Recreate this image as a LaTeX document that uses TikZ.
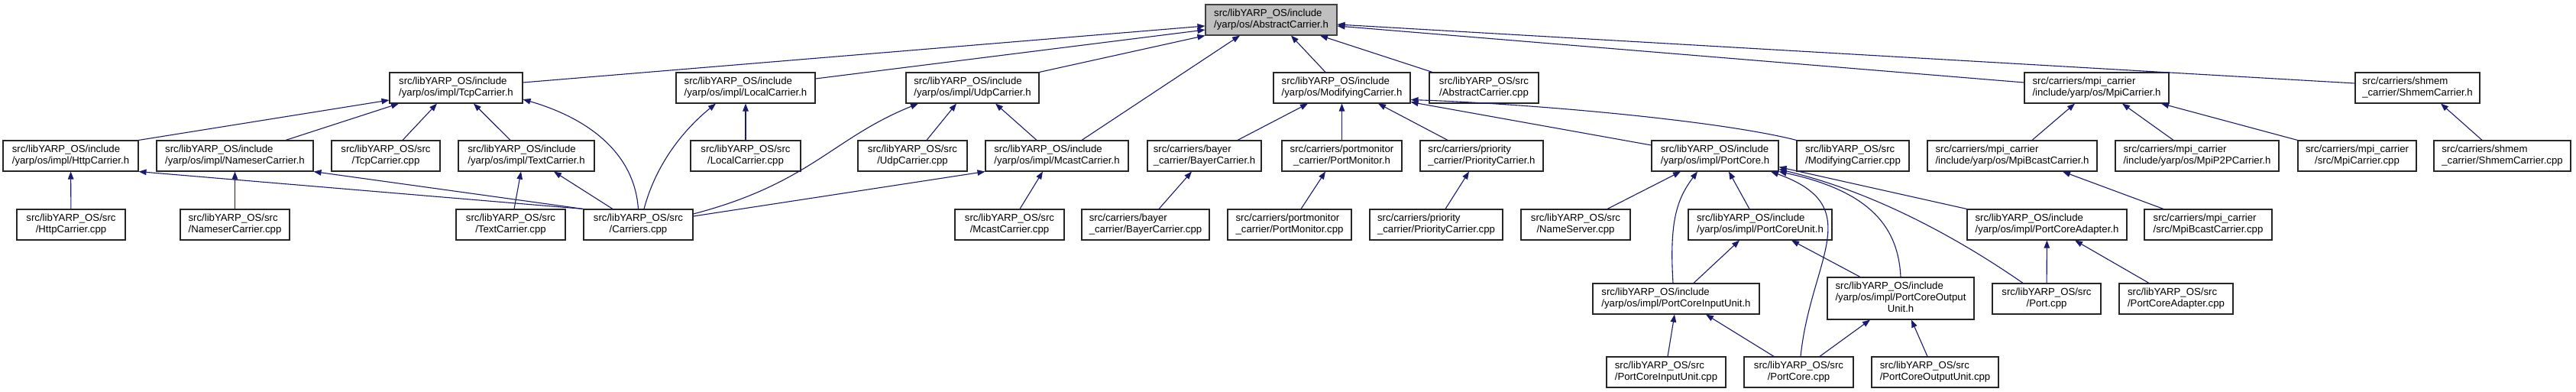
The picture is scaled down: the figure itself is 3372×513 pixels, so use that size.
\documentclass[tikz,border=0pt]{standalone}
\usepackage{fontspec}
\setmainfont{Liberation Sans}
\usetikzlibrary{arrows.meta}
\definecolor{edgeblue}{RGB}{25,25,112}
\definecolor{rootgray}{RGB}{191,191,191}
\newcommand{\yinc}{src/libYARP\_OS/include}
\newcommand{\ysrc}{src/libYARP\_OS/src}
\newcommand{\twol}[2]{\begin{tabular}{@{}l@{}}#1\\\multicolumn{1}{@{}c@{}}{#2}\end{tabular}}
\newcommand{\threel}[3]{\begin{tabular}{@{}l@{}}#1\\#2\\\multicolumn{1}{@{}c@{}}{#3}\end{tabular}}
\begin{document}
\begin{tikzpicture}[x=1pt,y=-1pt,
  box/.style={draw=black!85,line width=1.1pt,fill=white,inner sep=0pt,minimum height=40pt,
    font=\fontsize{13.2}{15}\selectfont},
  root/.style={box,fill=rootgray,draw=black!75},
  dep/.style={draw=edgeblue,line width=1.1pt,-{Triangle[length=10pt,width=7.5pt]}}]
  \useasboundingbox (0,0) rectangle (3372,513);

  \node[root,minimum width=172] (abs) at (1664,26) {\twol{\yinc}{/yarp/os/AbstractCarrier.h}};

  \node[box,minimum width=174] (tcp) at (597,115) {\twol{\yinc}{/yarp/os/impl/TcpCarrier.h}};
  \node[box,minimum width=182] (local) at (976,115) {\twol{\yinc}{/yarp/os/impl/LocalCarrier.h}};
  \node[box,minimum width=174] (udp) at (1273,115) {\twol{\yinc}{/yarp/os/impl/UdpCarrier.h}};
  \node[box,minimum width=179] (mod) at (1756.5,115) {\twol{\yinc}{/yarp/os/ModifyingCarrier.h}};
  \node[box,minimum width=143] (abscpp) at (1942.5,115) {\twol{\ysrc}{/AbstractCarrier.cpp}};
  \node[box,minimum width=189] (mpi) at (2744.5,115) {\twol{src/carriers/mpi\_carrier}{/include/yarp/os/MpiCarrier.h}};
  \node[box,minimum width=163] (shmem) at (3164.5,115) {\twol{src/carriers/shmem}{\_carrier/ShmemCarrier.h}};

  \node[box,minimum width=177] (http) at (92.5,204) {\twol{\yinc}{/yarp/os/impl/HttpCarrier.h}};
  \node[box,minimum width=205] (nameser) at (307.5,204) {\twol{\yinc}{/yarp/os/impl/NameserCarrier.h}};
  \node[box,minimum width=142] (tcpcpp) at (505,204) {\twol{\ysrc}{/TcpCarrier.cpp}};
  \node[box,minimum width=178] (text) at (689,204) {\twol{\yinc}{/yarp/os/impl/TextCarrier.h}};
  \node[box,minimum width=144] (localcpp) at (976,204) {\twol{\ysrc}{/LocalCarrier.cpp}};
  \node[box,minimum width=143] (udpcpp) at (1194.5,204) {\twol{\ysrc}{/UdpCarrier.cpp}};
  \node[box,minimum width=187] (mcast) at (1383.5,204) {\twol{\yinc}{/yarp/os/impl/McastCarrier.h}};
  \node[box,minimum width=149] (bayer) at (1576.5,204) {\twol{src/carriers/bayer}{\_carrier/BayerCarrier.h}};
  \node[box,minimum width=157] (portmon) at (1756.5,204) {\twol{src/carriers/portmonitor}{\_carrier/PortMonitor.h}};
  \node[box,minimum width=161] (prio) at (1939.5,204) {\twol{src/carriers/priority}{\_carrier/PriorityCarrier.h}};
  \node[box,minimum width=166] (portcore) at (2245,204) {\twol{\yinc}{/yarp/os/impl/PortCore.h}};
  \node[box,minimum width=147] (modcpp) at (2425.5,204) {\twol{\ysrc}{/ModifyingCarrier.cpp}};
  \node[box,minimum width=222] (mpibcast) at (2634,204) {\twol{src/carriers/mpi\_carrier}{/include/yarp/os/MpiBcastCarrier.h}};
  \node[box,minimum width=214] (mpip2p) at (2876,204) {\twol{src/carriers/mpi\_carrier}{/include/yarp/os/MpiP2PCarrier.h}};
  \node[box,minimum width=155] (mpicpp) at (3085.5,204) {\twol{src/carriers/mpi\_carrier}{/src/MpiCarrier.cpp}};
  \node[box,minimum width=179] (shmemcpp) at (3275.5,204) {\twol{src/carriers/shmem}{\_carrier/ShmemCarrier.cpp}};

  \node[box,minimum width=142] (httpcpp) at (93,294) {\twol{\ysrc}{/HttpCarrier.cpp}};
  \node[box,minimum width=143] (nscpp) at (307.5,294) {\twol{\ysrc}{/NameserCarrier.cpp}};
  \node[box,minimum width=143] (textcpp) at (668.5,294) {\twol{\ysrc}{/TextCarrier.cpp}};
  \node[box,minimum width=143] (carriers) at (835.5,294) {\twol{\ysrc}{/Carriers.cpp}};
  \node[box,minimum width=143] (mcastcpp) at (1321.5,294) {\twol{\ysrc}{/McastCarrier.cpp}};
  \node[box,minimum width=167] (bayercpp) at (1499.5,294) {\twol{src/carriers/bayer}{\_carrier/BayerCarrier.cpp}};
  \node[box,minimum width=162] (portmoncpp) at (1688,294) {\twol{src/carriers/portmonitor}{\_carrier/PortMonitor.cpp}};
  \node[box,minimum width=174] (priocpp) at (1880,294) {\twol{src/carriers/priority}{\_carrier/PriorityCarrier.cpp}};
  \node[box,minimum width=143] (namesrv) at (2062.5,294) {\twol{\ysrc}{/NameServer.cpp}};
  \node[box,minimum width=188] (pcunit) at (2304,294) {\twol{\yinc}{/yarp/os/impl/PortCoreUnit.h}};
  \node[box,minimum width=209] (pcadapter) at (2679.5,294) {\twol{\yinc}{/yarp/os/impl/PortCoreAdapter.h}};
  \node[box,minimum width=167] (mpibcastcpp) at (2890.5,294) {\twol{src/carriers/mpi\_carrier}{/src/MpiBcastCarrier.cpp}};

  \node[box,minimum width=218] (pcin) at (2194,391) {\twol{\yinc}{/yarp/os/impl/PortCoreInputUnit.h}};
  \node[box,minimum width=192,minimum height=55] (pcout) at (2488,390.5) {\threel{\yinc}{/yarp/os/impl/PortCoreOutput}{Unit.h}};
  \node[box,minimum width=142] (port) at (2679,391) {\twol{\ysrc}{/Port.cpp}};
  \node[box,minimum width=149] (pcadcpp) at (2848.5,391) {\twol{\ysrc}{/PortCoreAdapter.cpp}};

  \node[box,minimum width=156] (pcincpp) at (2181,487) {\twol{\ysrc}{/PortCoreInputUnit.cpp}};
  \node[box,minimum width=143] (pccpp) at (2354.5,487) {\twol{\ysrc}{/PortCore.cpp}};
  \node[box,minimum width=166] (pcoutcpp) at (2533,487) {\twol{\ysrc}{/PortCoreOutputUnit.cpp}};

  % into AbstractCarrier.h
  \draw[dep] ([yshift=7]tcp.east) -- ([yshift=-8]abs.west);
  \draw[dep] ([yshift=12]local.east) -- ([yshift=-13]abs.west);
  \draw[dep] (udp.north east) -- (abs.south west);
  \draw[dep] ([xshift=32.5]mcast.north) -- ([xshift=-41]abs.south);
  \draw[dep] ([xshift=-21.5]mod.north) -- ([xshift=26]abs.south);
  \draw[dep] ([xshift=-67.5]abscpp.north) -- ([xshift=64]abs.south);
  \draw[dep] ([yshift=7]mpi.west) -- ([yshift=-8]abs.east);
  \draw[dep] ([yshift=6]shmem.west) -- ([yshift=-6]abs.east);

  % libYARP_OS carriers
  \draw[dep] (http.north east) -- ([yshift=-16]tcp.west);
  \draw[dep] ([xshift=66.5]nameser.north) -- ([xshift=-75]tcp.south);
  \draw[dep] ([xshift=22]tcpcpp.north) -- ([xshift=-25]tcp.south);
  \draw[dep] ([xshift=-21]text.north) -- ([xshift=23]tcp.south);
  \draw[dep] (carriers.north) .. controls +(-5,-73) and +(86,25) .. ([yshift=-15]tcp.east);
  \draw[dep] (httpcpp) -- (http);
  \draw[dep] (carriers.north west) -- (http.south east);
  \draw[dep] (nscpp) -- (nameser);
  \draw[dep] (carriers.north west) -- (nameser.south east);
  \draw[dep] ([xshift=4.5]textcpp.north) -- ([xshift=-7]text.south);
  \draw[dep] ([xshift=-33.5]carriers.north) -- ([xshift=36]text.south);
  \draw[dep] (localcpp) -- (local);
  \draw[dep] ([xshift=7.5]carriers.north) .. controls +(17,-64) and +(-37,30) .. ([xshift=-39]local.south);
  \draw[dep] ([xshift=18.5]udpcpp.north) -- ([xshift=-21]udp.south);
  \draw[dep] ([xshift=-26.5]mcast.north) -- ([xshift=30]udp.south);
  \draw[dep] ([yshift=14]carriers.east) .. controls +(153,-40) and +(-112,45) .. ([xshift=-71]udp.south);
  \draw[dep] ([xshift=13.5]mcastcpp.north) -- ([xshift=-18.5]mcast.south);
  \draw[dep] ([yshift=11]carriers.east) -- (mcast.south west);

  % ModifyingCarrier.h
  \draw[dep] ([xshift=43.5]bayer.north) -- ([xshift=-44.5]mod.south);
  \draw[dep] (portmon) -- (mod);
  \draw[dep] ([xshift=-44.5]prio.north) -- ([xshift=47.5]mod.south);
  \draw[dep] ([yshift=14]portcore.west) -- ([yshift=2]mod.south east);
  \draw[dep] (modcpp.north west) .. controls +(-102,-26) and +(154,5) .. ([yshift=5]mod.south east);
  \draw[dep] ([xshift=17.5]bayercpp.north) -- ([xshift=-16.5]bayer.south);
  \draw[dep] ([xshift=15]portmoncpp.north) -- ([xshift=-21.5]portmon.south);
  \draw[dep] ([xshift=12]priocpp.north) -- ([xshift=-16.5]prio.south);

  % PortCore.h
  \draw[dep] ([xshift=41.5]namesrv.north) -- ([xshift=-45]portcore.south);
  \draw[dep] ([xshift=-4]pcin.north) .. controls +(-5,-81) and +(-27,36) .. ([xshift=-23]portcore.south);
  \draw[dep] ([xshift=-14]pcunit.north) -- ([xshift=18]portcore.south);
  \draw[dep] ([xshift=2.5]pccpp.north) .. controls +(13,-127) and +(128,46) .. ([xshift=73]portcore.south);
  \draw[dep] (pcout.north) .. controls +(-3,-63) and +(122,26) .. (portcore.south east);
  \draw[dep] ([xshift=-31]port.north) .. controls +(-88,-61) and +(122,29) .. ([yshift=3]portcore.south east);
  \draw[dep] (pcadapter.north west) -- ([yshift=6]portcore.south east);
  \draw[dep] ([xshift=23]pcin.north) -- ([xshift=-27]pcunit.south);
  \draw[dep] ([xshift=-53]pcout.north) -- ([xshift=41]pcunit.south);
  \draw[dep] ([xshift=2]pcincpp.north) -- ([xshift=-2]pcin.south);
  \draw[dep] ([xshift=-32.5]pccpp.north) -- ([xshift=39]pcin.south);
  \draw[dep] ([xshift=27.5]pccpp.north) -- ([xshift=-40]pcout.south);
  \draw[dep] ([xshift=-10]pcoutcpp.north) -- ([xshift=14]pcout.south);
  \draw[dep] (port) -- (pcadapter);
  \draw[dep] ([xshift=-35.5]pcadcpp.north) -- ([xshift=36.5]pcadapter.south);

  % mpi and shmem carriers
  \draw[dep] ([xshift=26]mpibcast.north) -- ([xshift=-28.5]mpi.south);
  \draw[dep] ([xshift=-31]mpip2p.north) -- ([xshift=33.5]mpi.south);
  \draw[dep] (mpicpp.north west) -- ([xshift=84.5]mpi.south);
  \draw[dep] ([xshift=-58.5]mpibcastcpp.north) -- ([xshift=66]mpibcast.south);
  \draw[dep] ([xshift=-26.5]shmemcpp.north) -- ([xshift=30.5]shmem.south);
\end{tikzpicture}
\end{document}
